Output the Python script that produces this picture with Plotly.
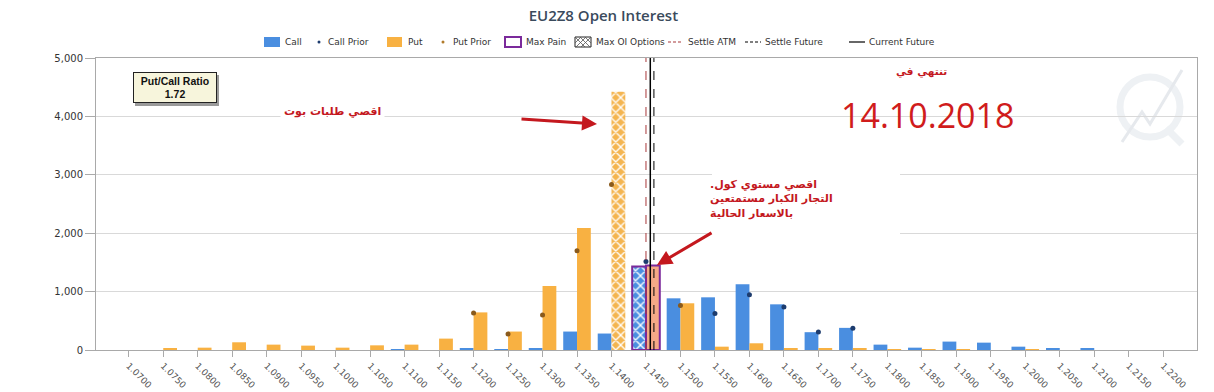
import plotly.graph_objects as go

# ---------------- data ----------------
strikes = ["1.0700", "1.0750", "1.0800", "1.0850", "1.0900", "1.0950", "1.1000", "1.1050",
           "1.1100", "1.1150", "1.1200", "1.1250", "1.1300", "1.1350", "1.1400", "1.1450",
           "1.1500", "1.1550", "1.1600", "1.1650", "1.1700", "1.1750", "1.1800", "1.1850",
           "1.1900", "1.1950", "1.2000", "1.2050", "1.2100", "1.2150", "1.2200"]
call_oi = [0, 0, 0, 0, 0, 0, 0, 0, 17, 0, 23, 17, 23, 316, 282, 1430,
           885, 902, 1126, 782, 305, 379, 92, 40, 144, 126, 57, 23, 23, 0, 0]
put_oi = [0, 20, 40, 132, 92, 75, 40, 80, 92, 195, 644, 316, 1098, 2090, 4420, 1445,
          800, 57, 115, 23, 23, 23, 17, 17, 17, 0, 17, 0, 0, 0, 0]
call_prior = [None] * 15 + [1516, None, 626, 948, 736, 310, 374] + [None] * 9
put_prior = [None] * 10 + [632, 276, 598, 1699, 2832, None, 764] + [None] * 14
max_pain_strike = "1.1450"
max_oi_call = "1.1450"
max_oi_put = "1.1400"
settle_atm_pos = 15.0
current_future_pos = 15.125
settle_future_pos = 15.23
put_call_ratio = "1.72"

# ---------------- styling ----------------
BLUE = "#4a8ee0"
ORANGE = "#f8b142"
PURPLE = "#7b2a9b"
RED = "#c4181e"

L, R, T, B = 96, 17, 58, 42
W, H = 1214, 392
PW, PH = W - L - R, H - T - B


def px(x):
    return (x - L) / PW


def py(y):
    return (H - B - y) / PH


mp_idx = strikes.index(max_pain_strike)
put_colors = ["#f5a987" if i == mp_idx else ORANGE for i in range(len(strikes))]
line_w = [2 if s == max_pain_strike else 0 for s in strikes]

# plain bars (the max-OI bars are drawn separately with a cross-hatch)
call_plain = [None if s == max_oi_call else v for s, v in zip(strikes, call_oi)]
put_plain = [None if s == max_oi_put else v for s, v in zip(strikes, put_oi)]
call_hatch = [v if s == max_oi_call else None for s, v in zip(strikes, call_oi)]
put_hatch = [v if s == max_oi_put else None for s, v in zip(strikes, put_oi)]
hatch_call_line = 2 if max_oi_call == max_pain_strike else 0
hatch_put_line = 2 if max_oi_put == max_pain_strike else 0

fig = go.Figure()
fig.add_trace(go.Bar(
    x=strikes, y=call_plain, name="Call", offset=-0.4, width=0.4,
    marker=dict(color=BLUE, line=dict(color=PURPLE, width=line_w)),
))
fig.add_trace(go.Bar(
    x=strikes, y=put_plain, name="Put", offset=0.0, width=0.4,
    marker=dict(color=put_colors, line=dict(color=PURPLE, width=line_w)),
))
fig.add_trace(go.Bar(
    x=strikes, y=call_hatch, name="Call (Max OI)", offset=-0.4, width=0.4,
    marker=dict(color=BLUE, line=dict(color=PURPLE, width=hatch_call_line),
                pattern=dict(shape="x", fillmode="replace", bgcolor=BLUE,
                             fgcolor="#ffffff", size=7, solidity=0.35)),
))
fig.add_trace(go.Bar(
    x=strikes, y=put_hatch, name="Put (Max OI)", offset=0.0, width=0.4,
    marker=dict(color=ORANGE, line=dict(color=PURPLE, width=hatch_put_line),
                pattern=dict(shape="x", fillmode="replace", bgcolor="#f4b550",
                             fgcolor="#ffffff", size=7, solidity=0.35)),
))
fig.add_trace(go.Scatter(x=strikes, y=call_prior, mode="markers", name="Call Prior",
                         marker=dict(color="#1d3c6e", size=5)))
fig.add_trace(go.Scatter(x=strikes, y=put_prior, mode="markers", name="Put Prior",
                         marker=dict(color="#8a5a1c", size=5)))

shapes = []
annotations = []

# vertical reference lines
for pos, col, dash, wd in [(settle_atm_pos, "#a8383a", "dash", 1),
                           (current_future_pos, "#000000", "solid", 1.5),
                           (settle_future_pos, "#000000", "dash", 1)]:
    shapes.append(dict(type="line", xref="x", yref="paper", x0=pos, x1=pos, y0=0, y1=1,
                       line=dict(color=col, width=wd, dash=dash), layer="above"))

# watermark logo (faint)
shapes.append(dict(type="circle", xref="paper", yref="paper",
                   x0=px(1120), x1=px(1180), y0=py(137), y1=py(77),
                   line=dict(color="#eef1f4", width=7), layer="below"))
shapes.append(dict(type="path", xref="paper", yref="paper",
                   path=f"M {px(1122)} {py(142)} L {px(1142)} {py(112)} L {px(1150)} {py(124)} L {px(1182)} {py(70)}",
                   line=dict(color="#e6e9ed", width=3), layer="below"))
shapes.append(dict(type="line", xref="paper", yref="paper",
                   x0=px(1166), x1=px(1182), y0=py(128), y1=py(144),
                   line=dict(color="#eef1f4", width=7), layer="below"))

# white patch behind the second arabic note
shapes.append(dict(type="rect", xref="paper", yref="paper",
                   x0=px(712), x1=px(900), y0=py(245), y1=py(165),
                   fillcolor="white", line=dict(width=0), layer="above"))

# Put/Call ratio box shadow + box
shapes.append(dict(type="rect", xref="paper", yref="paper",
                   x0=px(135), x1=px(219), y0=py(106), y1=py(75),
                   fillcolor="#9a9a9a", line=dict(width=0), layer="above"))
annotations.append(dict(xref="paper", yref="paper", x=px(174.7), y=py(87.8),
                        xanchor="center", yanchor="middle",
                        text=f"Put/Call Ratio<br>{put_call_ratio}", showarrow=False,
                        bgcolor="#f7f5dc", bordercolor="#222", borderwidth=1, borderpad=0,
                        width=82, height=29,
                        font=dict(family="Liberation Sans", size=10.5, color="#111", weight="bold")))

# manual legend
LY = 42
leg = [
    ("rect", 264, 280, BLUE, "Call", 284),
    ("dot", 319, None, "#1d3c6e", "Call Prior", 327),
    ("rect", 387, 402, ORANGE, "Put", 407),
    ("dot", 443, None, "#b07a2a", "Put Prior", 452),
    ("pain", 505, 521, None, "Max Pain", 525),
    ("oi", 575, 591, None, "Max OI Options", 595),
    ("line", 668, 683, "#a8383a", "Settle ATM", 687),
    ("line", 745, 761, "#000000", "Settle Future", 764),
    ("solid", 849, 865, "#000000", "Current Future", 868),
]
for kind, a, b, col, label, tx in leg:
    if kind == "rect":
        shapes.append(dict(type="rect", xref="paper", yref="paper", x0=px(a), x1=px(b),
                           y0=py(LY + 5), y1=py(LY - 5), fillcolor=col, line=dict(width=0)))
    elif kind == "dot":
        shapes.append(dict(type="circle", xref="paper", yref="paper", x0=px(a - 1.5), x1=px(a + 1.5),
                           y0=py(LY + 1.5), y1=py(LY - 1.5), fillcolor=col, line=dict(width=0)))
    elif kind == "pain":
        shapes.append(dict(type="rect", xref="paper", yref="paper", x0=px(a), x1=px(b),
                           y0=py(LY + 5), y1=py(LY - 5), fillcolor="white",
                           line=dict(color=PURPLE, width=2)))
    elif kind == "oi":
        shapes.append(dict(type="rect", xref="paper", yref="paper", x0=px(a), x1=px(b),
                           y0=py(LY + 5), y1=py(LY - 5), fillcolor="white",
                           line=dict(color="#222", width=1)))
        for d in (0, 5, 10):
            shapes.append(dict(type="line", xref="paper", yref="paper",
                               x0=px(a + d), x1=px(min(a + d + 10, b)), y0=py(LY - 5),
                               y1=py(LY - 5 + min(10, b - a - d)), line=dict(color="#555", width=0.8)))
            shapes.append(dict(type="line", xref="paper", yref="paper",
                               x0=px(b - d), x1=px(max(b - d - 10, a)), y0=py(LY - 5),
                               y1=py(LY - 5 + min(10, b - a - d)), line=dict(color="#555", width=0.8)))
    else:
        shapes.append(dict(type="line", xref="paper", yref="paper", x0=px(a), x1=px(b),
                           y0=py(LY), y1=py(LY),
                           line=dict(color=col, width=1.2, dash="solid" if kind == "solid" else "3px,2px")))
    annotations.append(dict(xref="paper", yref="paper", x=px(tx - 1), y=py(LY), xanchor="left",
                            yanchor="middle", text=label, showarrow=False,
                            font=dict(family="DejaVu Sans", size=9, color="#333")))

# Arabic notes and arrows
annotations.append(dict(xref="paper", yref="paper", x=px(332), y=py(112), text="اقصي طلبات بوت",
                        xanchor="center", yanchor="middle",
                        showarrow=False, bgcolor="white", borderpad=3,
                        font=dict(family="DejaVu Sans", size=11, color=RED, weight="bold")))
annotations.append(dict(xref="paper", yref="paper", x=px(597), y=py(124), text="",
                        showarrow=True, ax=-77, ay=-5, arrowcolor=RED, arrowwidth=3,
                        arrowhead=2, arrowsize=1))
annotations.append(dict(xref="paper", yref="paper", x=px(708), y=py(176), xanchor="left",
                        yanchor="top", align="left",
                        text="اقصي مستوي كول.\u200f<br>التجار الكبار مستمتعين<br>بالاسعار الحالية",
                        showarrow=False,
                        font=dict(family="DejaVu Sans", size=11, color=RED, weight="bold")))
annotations.append(dict(xref="paper", yref="paper", x=px(657), y=py(265), text="",
                        showarrow=True, ax=56, ay=-33, arrowcolor=RED, arrowwidth=3,
                        arrowhead=2, arrowsize=1))
annotations.append(dict(xref="paper", yref="paper", x=px(921), y=py(72), text="تنتهي في",
                        xanchor="center", yanchor="middle", showarrow=False,
                        font=dict(family="DejaVu Sans", size=10.5, color=RED, weight="bold")))
annotations.append(dict(xref="paper", yref="paper", x=px(928), y=py(115), text="14.10.2018",
                        xanchor="center", yanchor="middle", showarrow=False,
                        font=dict(family="Open Sans", size=34, color="#d01c1c")))

fig.update_layout(
    width=W, height=H,
    margin=dict(l=L, r=R, t=T, b=B, autoexpand=False),
    paper_bgcolor="white", plot_bgcolor="white",
    barmode="overlay",
    showlegend=False,
    title=dict(text="EU2Z8 Open Interest", x=0.497, xanchor="center", xref="container",
               y=1 - 16 / H, yanchor="middle",
               font=dict(family="Open Sans", size=15, color="#3a4a5c", weight=600)),
    xaxis=dict(type="category", categoryorder="array", categoryarray=strikes,
               range=[-0.95, 30.98], tickangle=45, ticks="outside", ticklen=6,
               tickcolor="#aaaaaa", showline=True, linecolor="#a9a9a9", mirror=True,
               showgrid=False, automargin=False,
               tickfont=dict(family="DejaVu Sans", size=9, color="#555")),
    yaxis=dict(range=[0, 5000], dtick=1000, tickformat=",", ticks="outside", ticklen=10,
               tickcolor="#aaaaaa", showline=True, linecolor="#a9a9a9", mirror=True,
               gridcolor="#d9d9d9", zeroline=False, automargin=False,
               tickfont=dict(family="DejaVu Sans", size=10, color="#333")),
    shapes=shapes,
    annotations=annotations,
)

fig.write_html("out.html", config={"displayModeBar": False},
               post_script="document.body.style.margin='0';document.body.style.padding='0';")
